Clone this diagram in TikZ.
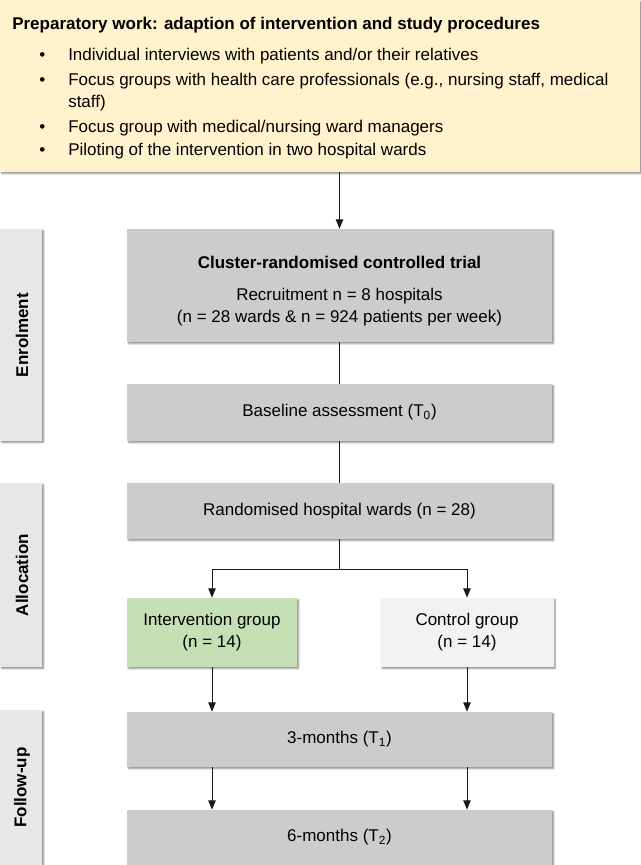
\documentclass[tikz,border=0pt]{standalone}
\usepackage{fontspec}
\setmainfont{Liberation Sans}
\usetikzlibrary{arrows.meta,shadows.blur}
\definecolor{prepyellow}{HTML}{FFF2CC}
\definecolor{boxgray}{HTML}{CCCCCC}
\definecolor{sidegray}{HTML}{E7E7E7}
\definecolor{ctrlgray}{HTML}{F2F2F2}
\definecolor{intgreen}{HTML}{C5E0B4}
\definecolor{linecol}{HTML}{1A1A1A}
\begin{document}
\begin{tikzpicture}[x=0.75pt,y=-0.75pt,
  boxshadow/.style={blur shadow={shadow xshift=1.2pt,shadow yshift=-1.2pt,shadow blur radius=1.3pt,shadow opacity=45}},
  basebox/.style={rectangle, draw=none, boxshadow, inner sep=0pt, align=center,
    font=\fontsize{12.75pt}{16.5pt}\selectfont},
  mainbox/.style={basebox, fill=boxgray, minimum width=318.75pt},
  groupbox/.style={basebox, minimum height=51.75pt},
  sidebox/.style={basebox, fill=sidegray, minimum width=31.5pt},
  sidelabel/.style={rotate=90, inner sep=0pt, font=\bfseries\fontsize{12.75pt}{15pt}\selectfont},
  prepbox/.style={basebox, fill=prepyellow, minimum width=480pt, minimum height=129pt},
  txt/.style={inner sep=0pt, anchor=base west, font=\fontsize{12.75pt}{16.5pt}\selectfont},
  conn/.style={draw=linecol, line width=0.75pt},
  arr/.style={conn, -{Triangle[length=7pt,width=5.5pt]}}
]
\useasboundingbox (0,0) rectangle (640,865);

% preparatory work box
\node[prepbox] (prep) at (320,86) {};
\node[txt, font=\bfseries\fontsize{12.75pt}{16.5pt}\selectfont] (preptitle) at (12,29) {Preparatory work: adaption of intervention and study procedures};
\node[txt] (bul1) at (39,60) {•};
\node[txt] (it1) at (68,60) {Individual interviews with patients and/or their relatives};
\node[txt] (bul2) at (39,85) {•};
\node[txt] (it2) at (68,85) {Focus groups with health care professionals (e.g., nursing staff, medical};
\node[txt] (it2b) at (68,107) {staff)};
\node[txt] (bul3) at (39,132) {•};
\node[txt] (it3) at (68,132) {Focus group with medical/nursing ward managers};
\node[txt] (bul4) at (39,155) {•};
\node[txt] (it4) at (68,155) {Piloting of the intervention in two hospital wards};

% side boxes
\node[sidebox, minimum height=159pt] (enrol) at (21,335) {};
\node[sidelabel] (enrollab) at (22,335) {Enrolment};
\node[sidebox, minimum height=138pt] (alloc) at (21,575) {};
\node[sidelabel] (alloclab) at (22,575) {Allocation};
\node[sidebox, minimum height=116.25pt] (follow) at (21,787.5) {};
\node[sidelabel] (followlab) at (22,787.5) {Follow-up};

% main flow
\node[mainbox, minimum height=84.75pt] (cluster) at (339.5,285.5) {};
\node[align=center, inner sep=0pt, font=\fontsize{12.75pt}{16.5pt}\selectfont] (clustertxt) at (339.5,291)
  {\textbf{Cluster-randomised controlled trial}\\[7.5pt]
   Recruitment n = 8 hospitals\\
   (n = 28 wards \& n = 924 patients per week)};
\node[mainbox, minimum height=42.75pt] (baseline) at (339.5,412.5) {Baseline assessment (T\textsubscript{0})};
\node[mainbox, minimum height=42pt] (random) at (339.5,511) {Randomised hospital wards (n = 28)};
\node[groupbox, fill=intgreen, minimum width=127.5pt] (interv) at (212,632.5) {Intervention group\\(n = 14)};
\node[groupbox, fill=ctrlgray, minimum width=129.75pt] (control) at (467,632.5) {Control group\\(n = 14)};
\node[mainbox, minimum height=41.25pt] (tone) at (339.5,739.5) {3-months (T\textsubscript{1})};
\node[mainbox, minimum height=41.25pt] (ttwo) at (339.5,837.5) {6-months (T\textsubscript{2})};

\coordinate (split) at (339.5,569);

% connectors
\draw[arr] (cluster.north |- prep.south) -- (cluster.north);
\draw[conn] (cluster.south) -- (baseline.north);
\draw[conn] (baseline.south) -- (random.north);
\draw[conn] (random.south) -- (split);
\draw[arr] (split) -| (interv.north);
\draw[arr] (split) -| (control.north);
\draw[arr] (interv.south) -- (interv.south |- tone.north);
\draw[arr] (control.south) -- (control.south |- tone.north);
\draw[arr] (interv.south |- tone.south) -- (interv.south |- ttwo.north);
\draw[arr] (control.south |- tone.south) -- (control.south |- ttwo.north);
\end{tikzpicture}
\end{document}
